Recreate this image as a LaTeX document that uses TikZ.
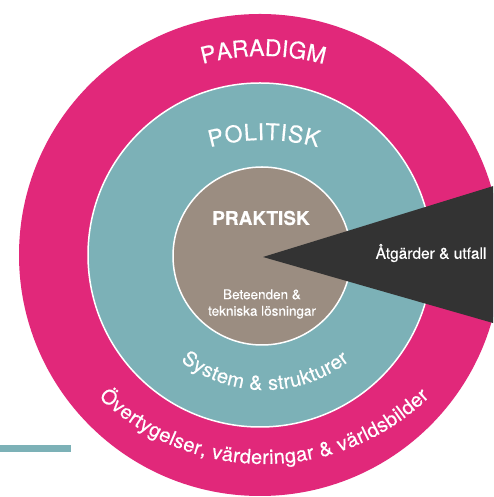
\documentclass[tikz,border=0pt]{standalone}
\usepackage{fontspec}
\setmainfont[FakeBold=0.35,BoldFont={TeX Gyre Heros Bold}]{TeX Gyre Heros}
\usetikzlibrary{decorations.text}
\definecolor{pinkc}{RGB}{225,40,122}
\definecolor{tealc}{RGB}{124,177,183}
\definecolor{brownc}{RGB}{155,141,129}
\definecolor{darkc}{RGB}{51,51,51}
\newcommand\capsfont{\fontsize{23pt}{27pt}\selectfont}
\newcommand\lowfont{\fontsize{20pt}{24pt}\selectfont}
\begin{document}
\begin{tikzpicture}[x=1pt,y=1pt,
  ring/.style={circle, inner sep=0pt, draw=white, line width=1.5pt},
  curved/.style={decorate, decoration={text along path, text align={fit to path}, text color=white, text={#1}}},
  lbl/.style={text=white, inner sep=0pt, align=center}]
\useasboundingbox (0,0) rectangle (493,497);
\clip (0,0) rectangle (493,497);
\coordinate (C) at (260,242);
% circles
\node[circle, inner sep=0pt, minimum size=482pt, fill=pinkc] (paradigm) at (C) {};
\node[ring, minimum size=344pt, fill=tealc] (politisk) at (C) {};
\node[ring, minimum size=178pt, fill=brownc] (praktisk) at (262,241) {};
% wedge
\coordinate (apex) at (263,240);
\coordinate (wtop) at (500,313);
\coordinate (wbot) at (500,172);
\fill[darkc] (apex) -- (wtop) -- (wbot) -- cycle;
% teal bar
\fill[tealc] (0,45) rectangle (71,52);
% straight labels
\node[lbl, font=\bfseries\fontsize{19pt}{22pt}\selectfont] (praktisklbl) at (261,279) {PRAKTISK};
\node[lbl, font=\fontsize{13.5pt}{16.5pt}\selectfont] (beteenden) at (262,193) {Beteenden \&\\tekniska lösningar};
\node[lbl, font=\fontsize{15.5pt}{18pt}\selectfont] (atgarder) at (431,244) {Åtgärder \& utfall};
% curved labels
\begin{scope}
\capsfont
\coordinate (cparadigm) at (263,211);
\path[curved={PARADIGM}] ([shift={(105.2:230pt)}]cparadigm) arc[start angle=105.2, end angle=74.8, radius=230pt];
\coordinate (cpolitisk) at (264,157);
\path[curved={POLITISK}] ([shift={(105.6:200pt)}]cpolitisk) arc[start angle=105.6, end angle=74.4, radius=200pt];
\end{scope}
\begin{scope}
\lowfont
\coordinate (csystem) at (265,244);
\path[curved={System {\&} strukturer}] ([shift={(232:137pt)}]csystem) arc[start angle=232, end angle=308, radius=137pt];
\coordinate (cover) at (264,271);
\path[curved={Övertygelser, värderingar {\&} världsbilder}] ([shift={(226:238pt)}]cover) arc[start angle=226, end angle=314, radius=238pt];
\end{scope}
\end{tikzpicture}
\end{document}
